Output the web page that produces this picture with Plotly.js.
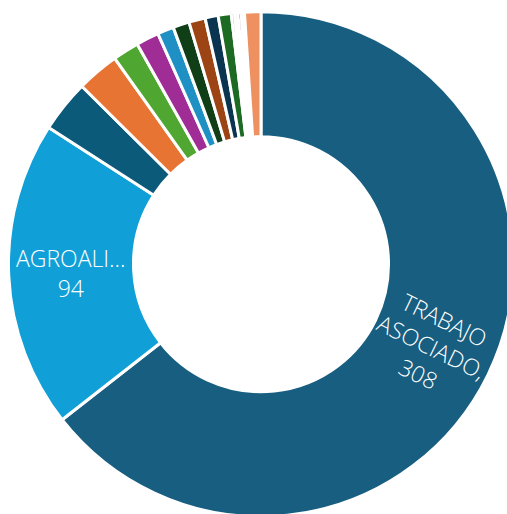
<!DOCTYPE html>
<html>
<head>
<meta charset="utf-8">
<script src="https://cdn.plot.ly/plotly-3.0.1.min.js"></script>
<style>
html,body{margin:0;padding:0;overflow:hidden;background:#fff;}
#chart{width:524px;height:528px;}
</style>
</head>
<body>
<div id="chart"></div>
<script>
// Categories (only two names are readable in the reference; others unlabeled)
const categories = ["TRABAJO ASOCIADO,", "AGROALI...", "Cat 3", "Cat 4", "Cat 5", "Cat 6", "Cat 7", "Cat 8", "Cat 9", "Cat 10", "Cat 11", "Cat 12", "Cat 13", "Cat 14", "Cat 15", "Cat 16"];
const values = [308, 94, 16, 13, 8, 7, 5, 5, 5, 4, 4, 1, 1, 1, 1, 5];
const shownLabels = ["TRABAJO<br>ASOCIADO,", "AGROALI...", "", "", "", "", "", "", "", "", "", "", "", "", "", ""];
const colors = ["#175E80", "#119FD7", "#0C5A7A", "#E87433", "#4FA731", "#A02D96", "#1F90C3", "#0F3E17", "#9C4413", "#0B3450", "#1C6A24", "#3E7A2A", "#E4E4E4", "#6B1D6A", "#EEEEEE", "#EE9060"];

const W = 524, H = 528;
const domX = [0.0162, 0.98], domY = [0.0214, 0.978];
const HOLE = 0.505;
const FONT = "'Segoe UI', 'Open Sans', 'Noto Sans', sans-serif";

// Label placement derived from the data (mid-angle of each labelled slice)
const cx = (domX[0] + domX[1]) / 2 * W;
const cyTop = H - (domY[0] + domY[1]) / 2 * H;
const R = Math.min((domX[1] - domX[0]) * W, (domY[1] - domY[0]) * H) / 2;
const rMid = R * (1 + HOLE) / 2;
const total = values.reduce((a, b) => a + b, 0);
const annotations = [];
let cum = 0;
values.forEach((v, i) => {
  const mid = (cum + v / 2) / total * 360;
  cum += v;
  if (!shownLabels[i]) return;
  const th = mid * Math.PI / 180;
  const px = cx + rMid * Math.sin(th);
  const py = cyTop - rMid * Math.cos(th);
  let ang = mid - 90;
  if (ang > 90) ang -= 180;
  if (Math.abs(ang) < 5) ang = 0;
  annotations.push({
    xref: "paper", yref: "paper",
    x: px / W, y: 1 - py / H,
    text: shownLabels[i] + "<br>" + v,
    showarrow: false, xanchor: "center", yanchor: "middle",
    textangle: ang,
    font: {family: FONT, size: 23, color: "#ffffff", weight: 300}
  });
});

const trace = {
  type: "pie",
  labels: categories,
  values: values,
  textinfo: "none",
  hoverinfo: "label+value",
  sort: false,
  direction: "clockwise",
  rotation: 0,
  hole: HOLE,
  marker: {colors: colors, line: {color: "#ffffff", width: 3}},
  domain: {x: domX, y: domY}
};

const layout = {
  width: W,
  height: H,
  margin: {l: 0, r: 0, t: 0, b: 0},
  showlegend: false,
  paper_bgcolor: "#ffffff",
  annotations: annotations
};

Plotly.newPlot("chart", [trace], layout, {displayModeBar: false, staticPlot: true});
</script>
</body>
</html>
